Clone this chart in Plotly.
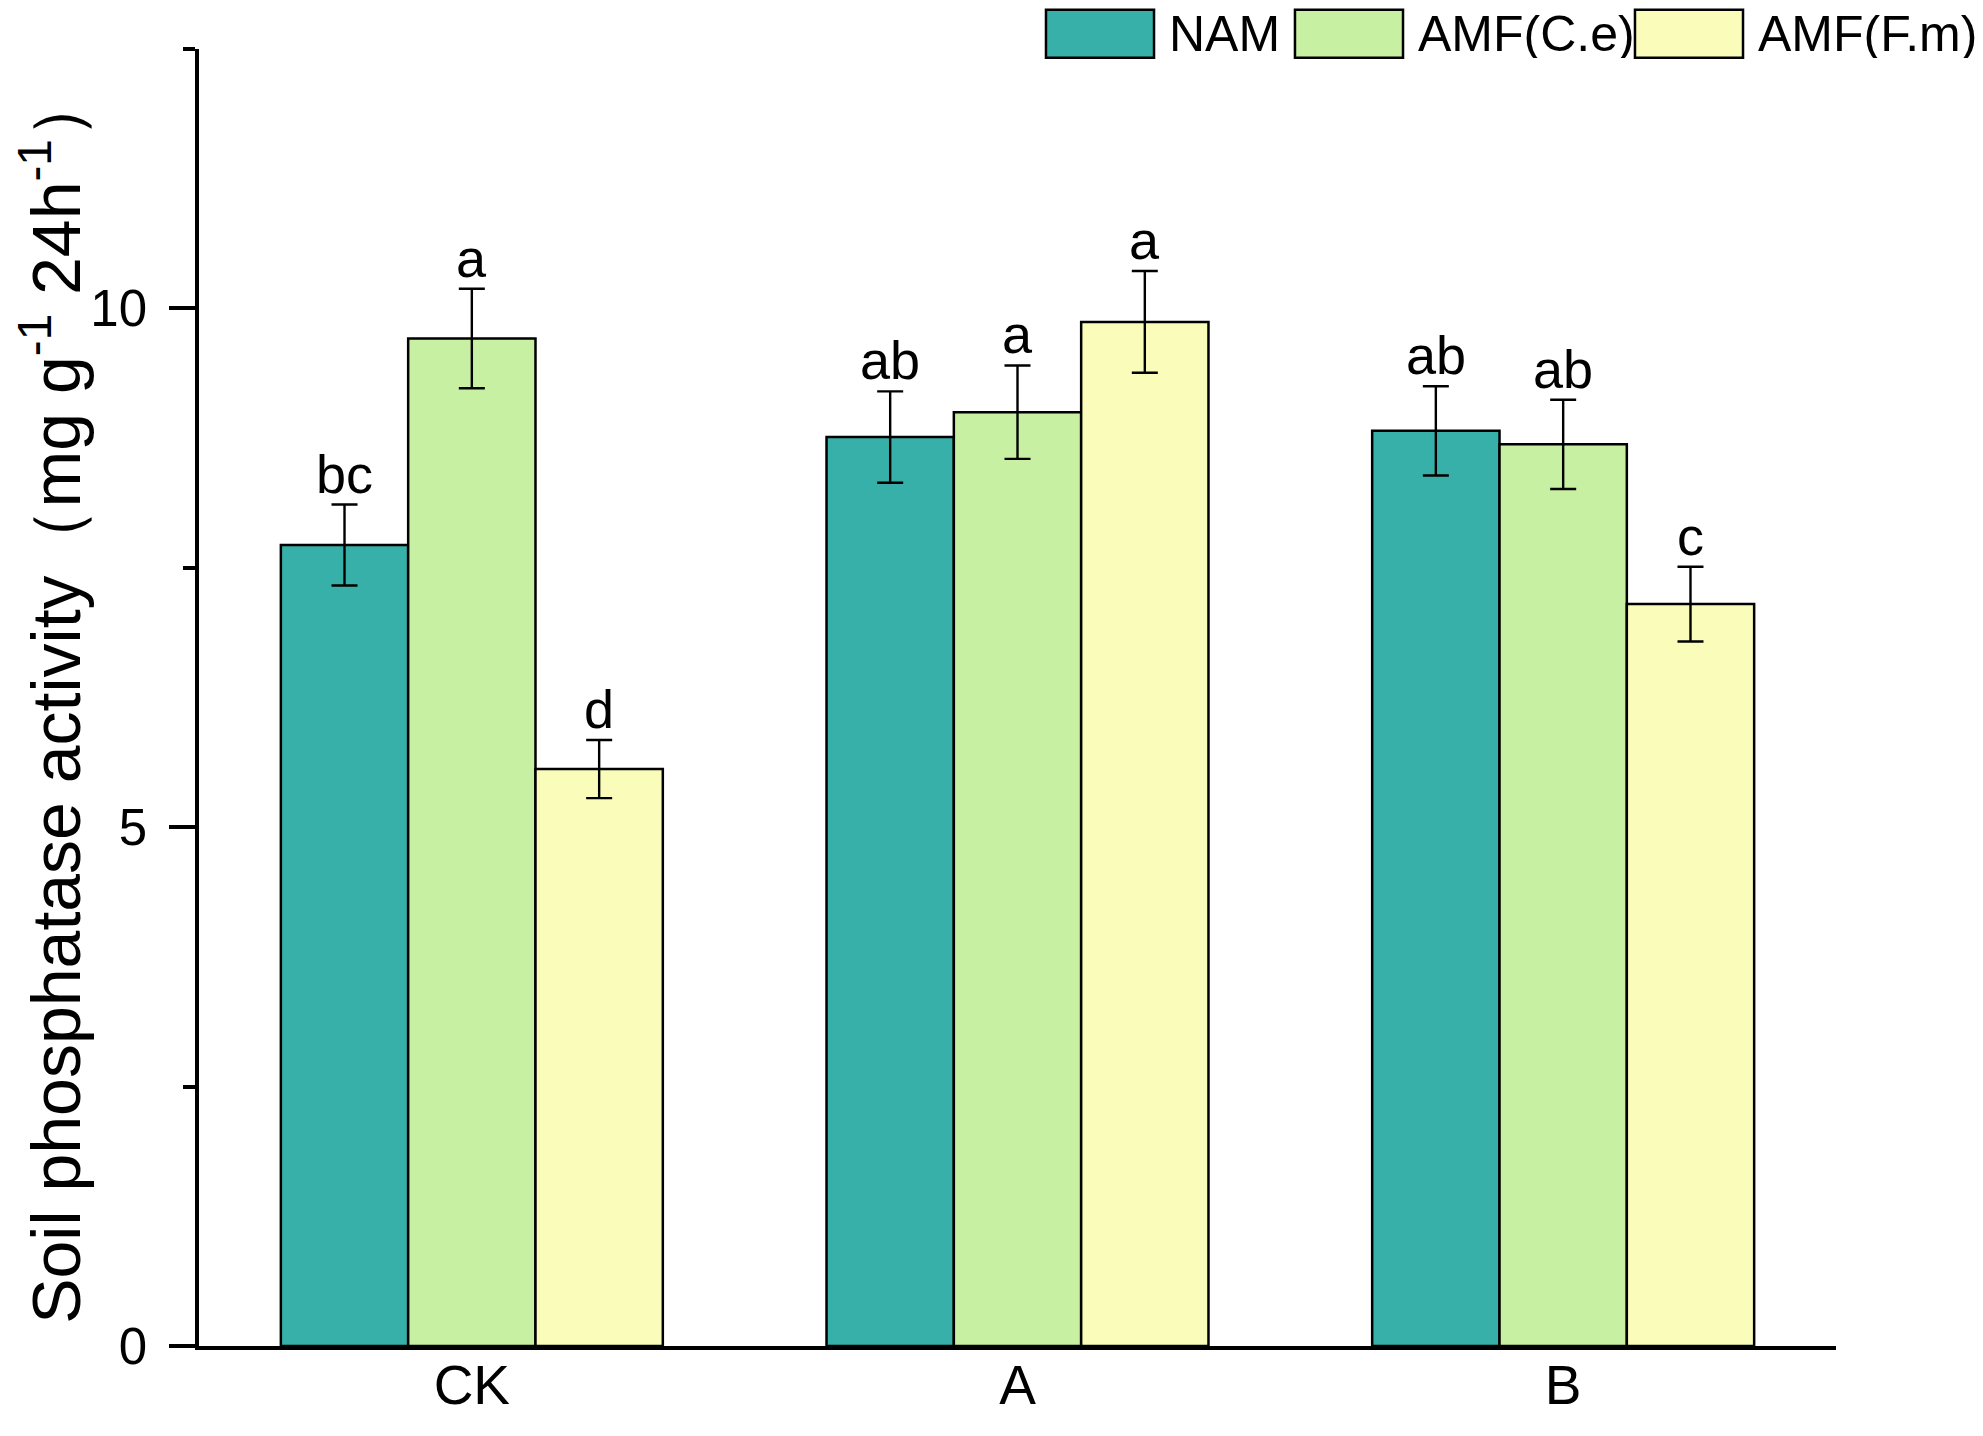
import plotly.graph_objects as go

groups = ["CK", "A", "B"]
series = ["NAM", "AMF(C.e)", "AMF(F.m)"]
colors = ["#37B0AA", "#C7F0A2", "#FAFDBA"]

nam = [7.72, 8.76, 8.82]
nam_err = [0.39, 0.44, 0.43]
nam_lab = ["bc", "ab", "ab"]

ce = [9.71, 9.00, 8.69]
ce_err = [0.48, 0.45, 0.43]
ce_lab = ["a", "a", "ab"]

fm = [5.56, 9.87, 7.15]
fm_err = [0.28, 0.49, 0.36]
fm_lab = ["d", "a", "c"]

values = [nam, ce, fm]
errors = [nam_err, ce_err, fm_err]
letters = [nam_lab, ce_lab, fm_lab]

font = "Liberation Sans, Arial, sans-serif"

fig = go.Figure()
for name, col, v, e in zip(series, colors, values, errors):
    fig.add_trace(go.Bar(
        x=groups, y=v, name=name,
        marker=dict(color=col, line=dict(color="black", width=2.5)),
        error_y=dict(type="data", array=e, color="black", thickness=2.4, width=13),
        showlegend=False,
    ))

# significance letters above the error bars
n = len(series)
for i, (v, e, lab) in enumerate(zip(values, errors, letters)):
    off = (i - (n - 1) / 2) * 0.7 / n
    for j, g in enumerate(groups):
        fig.add_annotation(
            x=j + off, y=v[j] + e[j], text=lab[j], showarrow=False,
            xref="x", yref="y", yanchor="bottom", yshift=-1,
            font=dict(family=font, size=54, color="black"),
        )

# legend drawn by hand across the top
box_x = [0.5174, 0.6695, 0.8772]
box_w = 0.066
for name, col, bx in zip(series, colors, box_x):
    fig.add_shape(type="rect", xref="paper", yref="paper",
                  x0=bx, x1=bx + box_w, y0=0.9932, y1=1.0303,
                  fillcolor=col, line=dict(color="black", width=2.5))
    fig.add_annotation(x=bx + box_w + 0.0085, y=1.0115, xref="paper", yref="paper",
                       text=name, showarrow=False, xanchor="left", yanchor="middle",
                       height=48, borderpad=0,
                       font=dict(family=font, size=50, color="black"))

# page body adds an 8px margin, so the figure is 16px smaller than the window
fig.update_layout(
    width=1967, height=1420,
    margin=dict(l=191, r=139, t=41, b=59),
    paper_bgcolor="white", plot_bgcolor="white",
    barmode="group", bargap=0.3, bargroupgap=0,
    font=dict(family=font, color="black"),
)
fig.update_xaxes(
    type="category", range=[-0.5, 2.5],
    showline=True, linecolor="black", linewidth=3.5,
    ticks="", showgrid=False,
    ticklabelstandoff=-12,
    tickfont=dict(family=font, size=55),
)
fig.update_yaxes(
    range=[0, 12.5], tick0=0, dtick=5,
    showline=True, linecolor="black", linewidth=3.5,
    ticks="outside", ticklen=26, tickwidth=3.5, tickcolor="black",
    minor=dict(dtick=2.5, ticks="outside", ticklen=12, tickwidth=3.5, tickcolor="black"),
    showgrid=False, zeroline=False,
    ticklabelstandoff=12,
    tickfont=dict(family=font, size=51),
    title=dict(text="Soil phosphatase activity（mg g<sup>-1</sup> 24h<sup>-1</sup>）",
               font=dict(family=font, size=68), standoff=12),
)

fig.write_html("out.html")
